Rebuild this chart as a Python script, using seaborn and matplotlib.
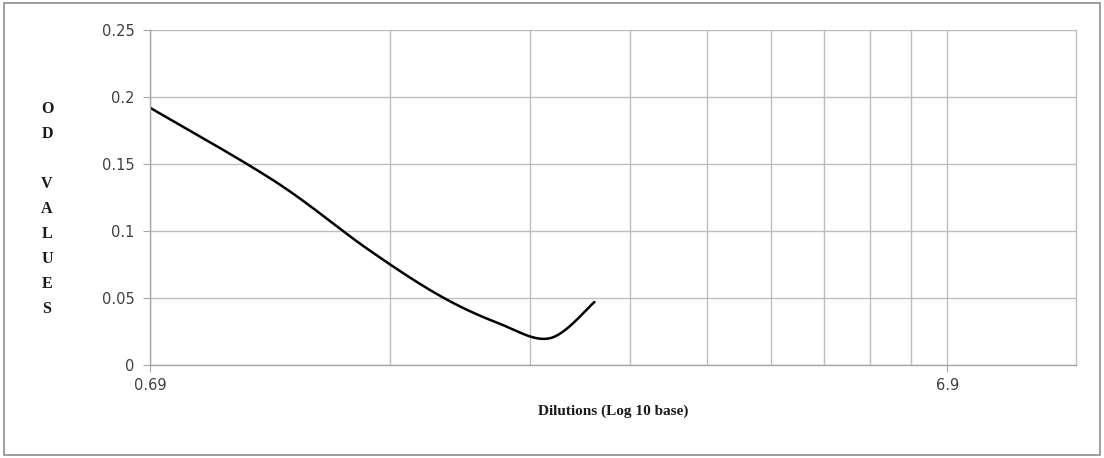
import numpy as np
import pandas as pd
import matplotlib
matplotlib.use("Agg")
import matplotlib.pyplot as plt
import seaborn as sns
from matplotlib.ticker import FixedLocator, NullFormatter

# ---------------- Data ---------------- #
dilutions = [0.69, 0.99, 1.29, 1.59, 1.89, 2.19, 2.49]
od_values = [0.192, 0.137, 0.087, 0.052, 0.031, 0.020, 0.047]
major_ticks = [0.69, 6.9]
minor_ticks = [0.69 * k for k in range(2, 10)]
y_ticks = [0, 0.05, 0.1, 0.15, 0.2, 0.25]
y_labels = ["0", "0.05", "0.1", "0.15", "0.2", "0.25"]


def smooth_curve(xs, ys, n=40):
    """Excel-like smoothed line (Catmull-Rom bezier in log-x space)."""
    lx = np.log10(xs)
    ys = np.asarray(ys, dtype=float)
    px, py = [], []
    for i in range(len(lx) - 1):
        i0, i3 = max(i - 1, 0), min(i + 2, len(lx) - 1)
        p0 = np.array([lx[i], ys[i]])
        p3 = np.array([lx[i + 1], ys[i + 1]])
        c1 = p0 + (np.array([lx[i + 1], ys[i + 1]]) - np.array([lx[i0], ys[i0]])) / 6
        c2 = p3 - (np.array([lx[i3], ys[i3]]) - np.array([lx[i], ys[i]])) / 6
        t = np.linspace(0, 1, n)[:, None]
        pts = ((1 - t) ** 3) * p0 + 3 * ((1 - t) ** 2) * t * c1 + 3 * (1 - t) * t ** 2 * c2 + t ** 3 * p3
        px.extend(pts[:, 0])
        py.extend(pts[:, 1])
    return 10 ** np.array(px), np.array(py)


sns.set_style("white")

fig = plt.figure(figsize=(11.04, 4.58), dpi=100)
ax = fig.add_axes([150 / 1104, 1 - 365 / 458, (1076 - 150) / 1104, (365 - 30) / 458])

sx, sy = smooth_curve(dilutions, od_values)
df = pd.DataFrame({"Dilution": sx, "OD": sy})
sns.lineplot(data=df, x="Dilution", y="OD", ax=ax, color="black", lw=1.8, sort=False)

ax.set_xscale("log")
ax.set_xlim(0.69, 10.0)
ax.set_ylim(0, 0.25)

grid_c = "#bdbdbd"
ax.xaxis.set_major_locator(FixedLocator(major_ticks))
ax.xaxis.set_minor_locator(FixedLocator(minor_ticks))
ax.xaxis.set_minor_formatter(NullFormatter())
ax.set_xticklabels(["0.69", "6.9"])
ax.set_yticks(y_ticks)
ax.set_yticklabels(y_labels)

ax.grid(True, which="both", color=grid_c, lw=1)
ax.set_axisbelow(True)
ax.spines["top"].set_visible(False)
for side in ["left", "bottom", "right"]:
    ax.spines[side].set_color("#a6a6a6")
    ax.spines[side].set_linewidth(1)
ax.spines["right"].set_color(grid_c)

ax.tick_params(axis="both", which="major", colors="#a6a6a6", labelcolor="#404040",
               labelsize=10.5, length=5, direction="out")
ax.tick_params(axis="x", which="major", pad=4)
ax.tick_params(axis="x", which="minor", length=0)
ax.tick_params(axis="y", left=True, pad=6)
ax.tick_params(axis="x", bottom=True)

ax.set_xlabel("Dilutions (Log 10 base)", fontfamily="Liberation Serif", fontweight="bold",
              fontsize=11, color="#1a1a1a", labelpad=9)
ax.set_ylabel("")
fig.text(47 / 1104, 1 - 209 / 458, "O\nD\n\nV\nA\nL\nU\nE\nS", ha="center", va="center",
         fontfamily="Liberation Serif", fontweight="bold", fontsize=11.5, color="#1a1a1a",
         linespacing=1.75)

# outer chart border
fig.patches.append(plt.Rectangle((4 / 1104, 3 / 458), 1096 / 1104, 452 / 458,
                                 transform=fig.transFigure, fill=False,
                                 edgecolor="#8c8c8c", lw=1.2))

fig.savefig("out.png", dpi=100)
